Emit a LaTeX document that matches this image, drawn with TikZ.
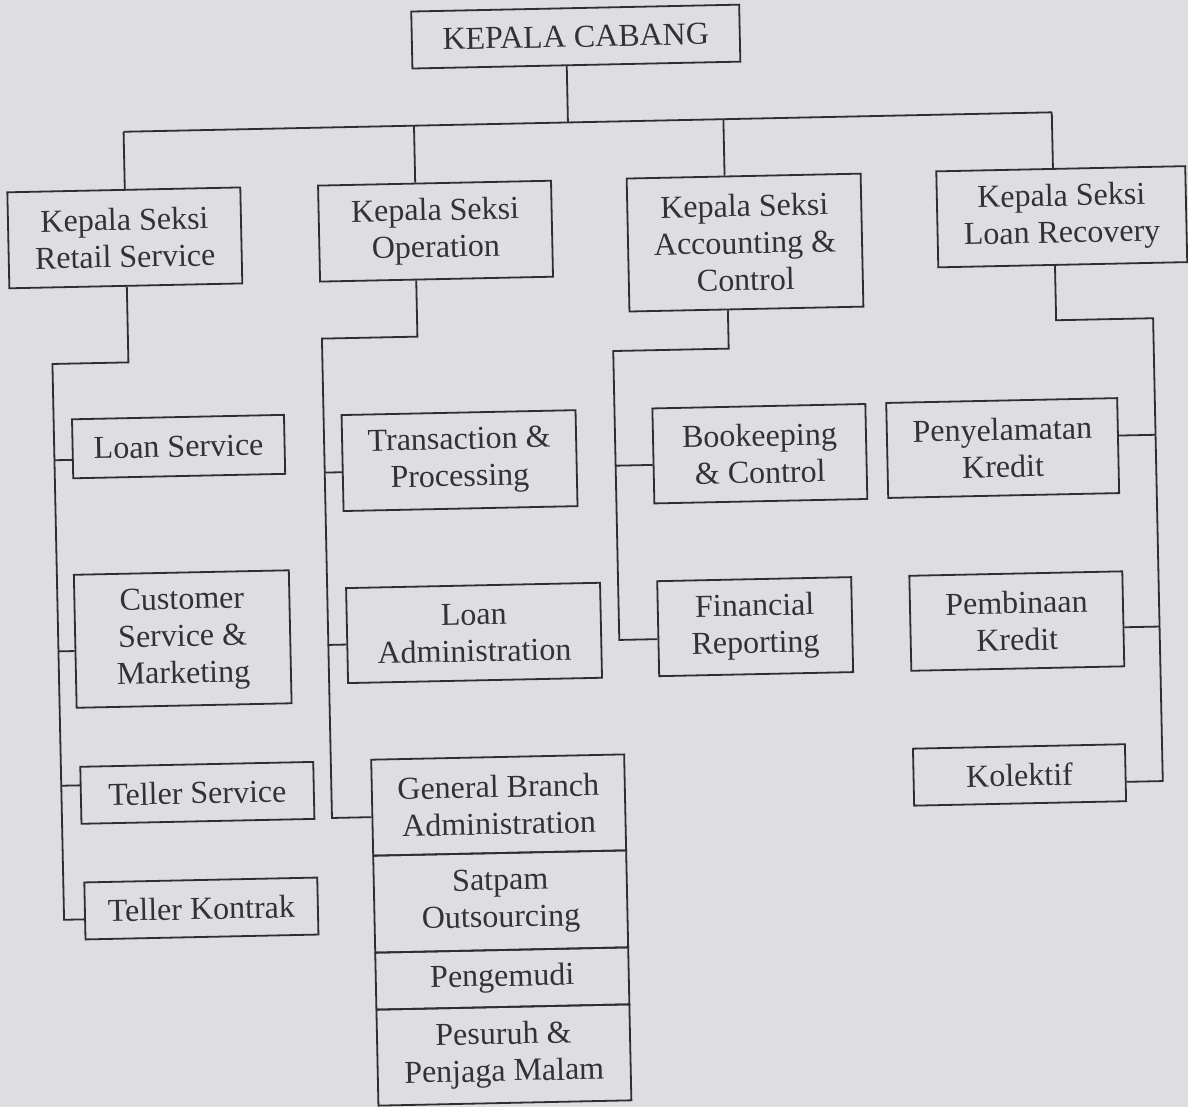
\documentclass[tikz,border=0pt]{standalone}
\usepackage{fontspec}
\setmainfont{Liberation Serif}
\definecolor{bg}{RGB}{222,222,224}
\definecolor{ln}{RGB}{45,45,50}
\definecolor{tx}{RGB}{50,50,52}
\begin{document}
\begin{tikzpicture}[x=1pt,y=-1pt,
  box/.style={draw=ln, line width=1.8pt, text=tx, inner sep=0pt, align=center,
    font=\fontsize{32}{37}\selectfont},
  conn/.style={draw=ln, line width=1.8pt, line join=miter}]
\fill[bg] (0,0) rectangle (1188,1107);
\useasboundingbox (0,0) rectangle (1188,1107);
\begin{scope}[rotate around={1.2:(594,553)}, transform shape]
% top level
\node[box, minimum width=328pt, minimum height=57pt] (KC) at (586.6,36.3) {KEPALA CABANG};
\node[box, minimum width=233pt, minimum height=96pt] (RS) at (131.5,228.1) {Kepala Seksi\\Retail Service};
\node[box, minimum width=233pt, minimum height=96pt] (OP) at (442.3,227.9) {Kepala Seksi\\Operation};
\node[box, minimum width=234pt, minimum height=133pt] (AC) at (751.5,245.8) {Kepala Seksi\\Accounting \&\\Control};
\node[box, minimum width=249pt, minimum height=96pt] (LR) at (1068.7,226.6) {Kepala Seksi\\Loan Recovery};
% column 1
\node[box, minimum width=212pt, minimum height=59pt] (LS) at (180.9,437.9) {Loan Service};
\node[box, minimum width=215pt, minimum height=133pt] (CS) at (181,630.4) {Customer\\Service \&\\Marketing};
\node[box, minimum width=233pt, minimum height=57pt] (TS) at (192.4,784.5) {Teller Service};
\node[box, minimum width=233pt, minimum height=57pt] (TK) at (194,900.2) {Teller Kontrak};
% column 2
\node[box, minimum width=234pt, minimum height=96pt] (TP) at (461.5,457.8) {Transaction \&\\Processing};
\node[box, minimum width=254pt, minimum height=95pt] (LA) at (472.4,630.4) {Loan\\Administration};
\node[box, minimum width=253pt, minimum height=96pt] (G1) at (493.4,803) {General Branch\\Administration};
\node[box, minimum width=253pt, minimum height=97pt] (G2) at (493.4,899.5) {Satpam\\Outsourcing};
\node[box, minimum width=253pt, minimum height=57pt] (G3) at (493.4,976.5) {Pengemudi};
\node[box, minimum width=253pt, minimum height=96pt] (G4) at (493.4,1053) {Pesuruh \&\\Penjaga Malam};
% column 3
\node[box, minimum width=213pt, minimum height=95pt] (BK) at (761.9,457.2) {Bookeeping\\\& Control};
\node[box, minimum width=194pt, minimum height=95pt] (FR) at (753.6,630) {Financial\\Reporting};
% column 4
\node[box, minimum width=231pt, minimum height=95pt] (PK) at (1004.8,456.6) {Penyelamatan\\Kredit};
\node[box, minimum width=213pt, minimum height=95pt] (PB) at (1015.3,629.9) {Pembinaan\\Kredit};
\node[box, minimum width=212pt, minimum height=57pt] (KO) at (1014.8,783.8) {Kolektif};
% top bus
\coordinate (j0) at (577,122);
\coordinate (d1) at (132.5,122);
\coordinate (d2) at (423,122);
\coordinate (d3) at (732.5,122);
\coordinate (d4) at (1061,122);
\draw[conn] (KC.south -| j0) -- (j0);
\draw[conn] (d1) -- (d4);
\draw[conn] (d1) -- (d1 |- RS.north);
\draw[conn] (d2) -- (d2 |- OP.north);
\draw[conn] (d3) -- (d3 |- AC.north);
\draw[conn] (d4) -- (d4 |- LR.north);
% column 1 connectors
\coordinate (a1) at (132.5,352.7);
\coordinate (a2) at (56.5,352.7);
\coordinate (a3) at (56.5,908.7);
\draw[conn] (RS.south -| a1) -- (a1) -- (a2) -- (a3) -- (TK.west |- a3);
\coordinate (b1) at (56.5,449);
\coordinate (b2) at (56.5,640.2);
\coordinate (b3) at (56.5,774.6);
\draw[conn] (b1) -- (LS.west |- b1);
\draw[conn] (b2) -- (CS.west |- b2);
\draw[conn] (b3) -- (TS.west |- b3);
% column 2 connectors
\coordinate (e1) at (422,333);
\coordinate (e2) at (326.5,333);
\coordinate (e3) at (326.5,812.5);
\draw[conn] (OP.south -| e1) -- (e1) -- (e2) -- (e3) -- (G1.west |- e3);
\coordinate (f1) at (326.5,467);
\coordinate (f2) at (326.5,639.4);
\draw[conn] (f1) -- (TP.west |- f1);
\draw[conn] (f2) -- (LA.west |- f2);
% column 3 connectors
\coordinate (g1) at (733,351.5);
\coordinate (g2) at (617.5,351.5);
\coordinate (g3) at (617.5,640.5);
\draw[conn] (AC.south -| g1) -- (g1) -- (g2) -- (g3) -- (FR.west |- g3);
\coordinate (h1) at (617.5,466.2);
\draw[conn] (h1) -- (BK.west |- h1);
% column 4 connectors
\coordinate (k1) at (1061,330);
\coordinate (k2) at (1158,330);
\coordinate (k3) at (1158,793);
\draw[conn] (LR.south -| k1) -- (k1) -- (k2) -- (k3) -- (KO.east |- k3);
\coordinate (m1) at (1158,446.6);
\coordinate (m2) at (1158,638.4);
\draw[conn] (m1) -- (PK.east |- m1);
\draw[conn] (m2) -- (PB.east |- m2);
\end{scope}
\end{tikzpicture}
\end{document}
